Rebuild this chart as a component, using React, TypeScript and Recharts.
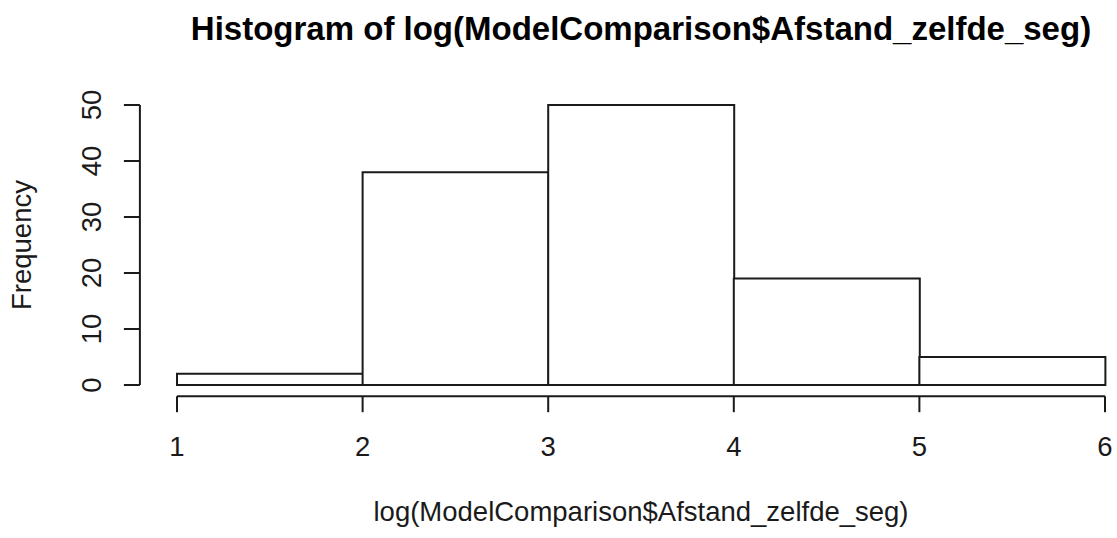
import React from 'react';
import { BarChart, Bar, XAxis, YAxis, ReferenceLine } from 'recharts';

// Histogram bins (midpoints) and their counts
const binMids = [1.5, 2.5, 3.5, 4.5, 5.5];
const frequencies = [2, 38, 50, 19, 5];
const xTicks = [1, 2, 3, 4, 5, 6];
const yTicks = [0, 10, 20, 30, 40, 50];

const mainTitle = 'Histogram of log(ModelComparison$Afstand_zelfde_seg)';
const xTitle = 'log(ModelComparison$Afstand_zelfde_seg)';
const yTitle = 'Frequency';

const data = binMids.map((mid, i) => ({ mid, count: frequencies[i] }));

// R-style plot region: data range padded by 4% on each side
const xDomain: [number, number] = [0.8, 6.2];
const yDomain: [number, number] = [-2, 52];

const FONT = '"Liberation Sans", Arial, sans-serif';
const INK = '#1a1a1a';
const AXIS_FONT = 27.5;

const CHART_W = 1160;
const CHART_H = 538;
const PLOT_LEFT = 139.9;
const PLOT_RIGHT = 1142.1;
const PLOT_TOP = 93.8;
const PLOT_BOTTOM = 396.2;
const X_AXIS_H = 60;
const CENTER_X = (PLOT_LEFT + PLOT_RIGHT) / 2;
const CENTER_Y = (PLOT_TOP + PLOT_BOTTOM) / 2;

const YTick = (props: any) => {
  const { x, y, payload } = props;
  return (
    <text
      x={x}
      y={y}
      transform={`rotate(-90, ${x}, ${y})`}
      textAnchor="middle"
      fontSize={AXIS_FONT}
      fontFamily={FONT}
      fill={INK}
    >
      {payload.value}
    </text>
  );
};

export default function App() {
  return (
    <div
      style={{
        position: 'absolute',
        left: 0,
        top: 0,
        width: 1117,
        height: 538,
        overflow: 'hidden',
        background: '#fff',
      }}
    >
      <BarChart
        width={CHART_W}
        height={CHART_H}
        data={data}
        barCategoryGap={0}
        barGap={0}
        margin={{
          top: PLOT_TOP,
          right: CHART_W - PLOT_RIGHT,
          bottom: CHART_H - PLOT_BOTTOM - X_AXIS_H,
          left: 0,
        }}
      >
        <XAxis
          dataKey="mid"
          type="number"
          domain={xDomain}
          ticks={xTicks}
          height={X_AXIS_H}
          axisLine={false}
          tickLine={{ stroke: INK, strokeWidth: 2 }}
          tickSize={16}
          tickMargin={24}
          tick={{ fontSize: AXIS_FONT, fontFamily: FONT, fill: INK }}
          interval={0}
        />
        <YAxis
          type="number"
          domain={yDomain}
          ticks={yTicks}
          width={PLOT_LEFT}
          axisLine={false}
          tickLine={{ stroke: INK, strokeWidth: 2 }}
          tickSize={16}
          tickMargin={23}
          tick={<YTick />}
          interval={0}
        />
        {/* axis lines span only first to last tick, as in base R */}
        <ReferenceLine
          segment={[
            { x: xDomain[0], y: yTicks[0] },
            { x: xDomain[0], y: yTicks[yTicks.length - 1] },
          ]}
          stroke={INK}
          strokeWidth={2}
          ifOverflow="visible"
        />
        <ReferenceLine
          segment={[
            { x: xTicks[0], y: yDomain[0] },
            { x: xTicks[xTicks.length - 1], y: yDomain[0] },
          ]}
          stroke={INK}
          strokeWidth={2}
          ifOverflow="visible"
        />
        <Bar
          dataKey="count"
          fill="#fff"
          stroke={INK}
          strokeWidth={2}
          isAnimationActive={false}
        />
      </BarChart>
      <svg
        width={1117}
        height={538}
        style={{ position: 'absolute', left: 0, top: 0, pointerEvents: 'none' }}
      >
        <text
          x={CENTER_X}
          y={40}
          textAnchor="middle"
          fontSize={33}
          fontWeight="bold"
          fontFamily={FONT}
          fill="#000"
        >
          {mainTitle}
        </text>
        <text
          x={CENTER_X}
          y={521}
          textAnchor="middle"
          fontSize={AXIS_FONT}
          fontFamily={FONT}
          fill={INK}
        >
          {xTitle}
        </text>
        <text
          x={31}
          y={CENTER_Y}
          transform={`rotate(-90, 31, ${CENTER_Y})`}
          textAnchor="middle"
          fontSize={AXIS_FONT}
          fontFamily={FONT}
          fill={INK}
        >
          {yTitle}
        </text>
      </svg>
    </div>
  );
}
